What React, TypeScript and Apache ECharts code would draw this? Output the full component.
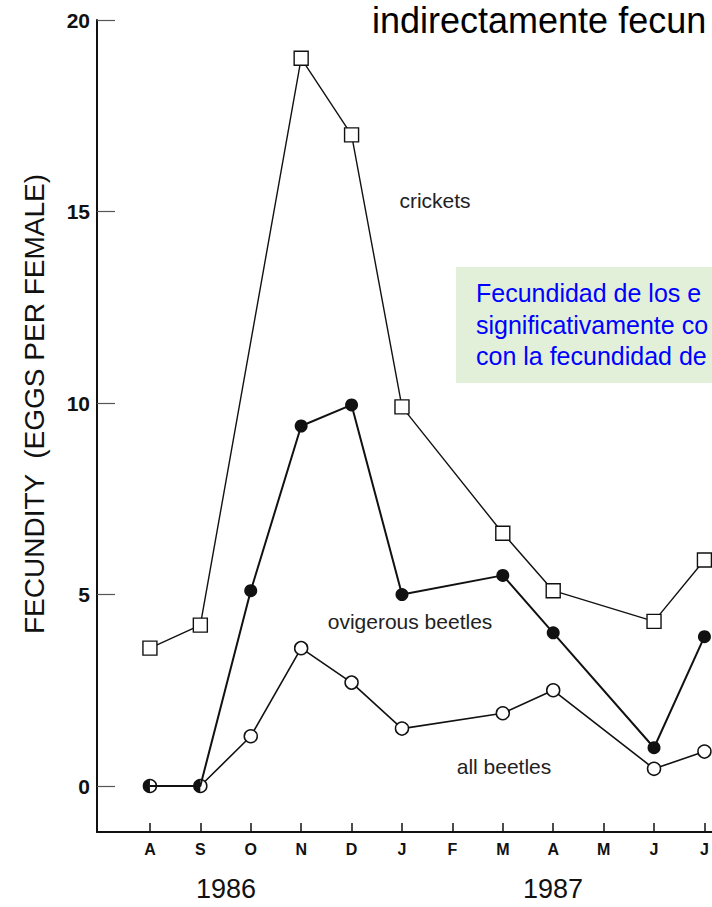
import React, { useEffect, useRef } from "react";
import * as echarts from "echarts";

const months = ["A", "S", "O", "N", "D", "J", "F", "M", "A", "M", "J", "J"];
const crickets: (number | null)[] = [3.6, 4.2, null, 19.0, 17.0, 9.9, null, 6.6, 5.1, null, 4.3, 5.9];
const ovigerous: (number | null)[] = [0, 0, 5.1, 9.4, 9.95, 5.0, null, 5.5, 4.0, null, 1.0, 3.9];
const allBeetles: (number | null)[] = [0, 0, 1.3, 3.6, 2.7, 1.5, null, 1.9, 2.5, null, 0.45, 0.9];
const yTicks = [0, 5, 10, 15, 20];
const years = ["1986", "1987"];
const seriesNames = ["crickets", "ovigerous beetles", "all beetles"];
const yAxisName = "FECUNDITY  (EGGS PER FEMALE)";
const titleText = "indirectamente fecun";
const noteLines = ["Fecundidad de los e", "significativamente co", "con la fecundidad de"];

const FONT = "'Liberation Sans', Arial, Helvetica, sans-serif";
const HALF = "path://M10,0 A10,10 0 0,0 10,20 Z";

function pts(arr: (number | null)[]) {
  const out: any[] = [];
  arr.forEach((v, i) => {
    if (v !== null) out.push([i, v]);
  });
  return out;
}

export default function App() {
  const ref = useRef<HTMLDivElement>(null);
  useEffect(() => {
    if (!ref.current) return;
    const chart = echarts.init(ref.current, null, { renderer: "svg" });
    const ovData = pts(ovigerous).map((p) =>
      p[1] === 0
        ? { value: p, symbol: HALF, symbolSize: [6.5, 13], symbolOffset: [-3.25, 0] }
        : { value: p }
    );
    const textStyle = { fill: "#222", fontFamily: FONT, fontSize: 21 };
    chart.setOption({
      animation: false,
      backgroundColor: "#ffffff",
      grid: { left: 97, right: 0, top: 20, bottom: 75, containLabel: false },
      xAxis: {
        type: "value",
        min: -1.05,
        max: 11.15,
        splitLine: { show: false },
        axisLine: { show: true, onZero: false, lineStyle: { color: "#111", width: 2 } },
        axisTick: {
          show: true,
          inside: true,
          length: 9,
          customValues: months.map((_, i) => i),
          lineStyle: { color: "#111", width: 1.5 },
        },
        axisLabel: {
          customValues: months.map((_, i) => i),
          formatter: (v: number) => months[Math.round(v)] ?? "",
          color: "#111",
          fontFamily: FONT,
          fontWeight: "bold",
          fontSize: 16,
          margin: 9,
        },
      },
      yAxis: {
        type: "value",
        min: -1.2,
        max: 20,
        splitLine: { show: false },
        axisLine: { show: true, onZero: false, lineStyle: { color: "#111", width: 2 } },
        axisTick: {
          show: true,
          inside: true,
          length: 18,
          customValues: yTicks,
          lineStyle: { color: "#555", width: 1.2 },
        },
        axisLabel: {
          customValues: yTicks,
          color: "#111",
          fontFamily: FONT,
          fontWeight: "bold",
          fontSize: 21,
          margin: 7,
        },
      },
      series: [
        {
          name: seriesNames[0],
          type: "line",
          data: pts(crickets),
          symbol: "rect",
          symbolSize: 14,
          lineStyle: { color: "#111", width: 1.4 },
          itemStyle: { color: "#fff", borderColor: "#111", borderWidth: 1.4 },
          z: 2,
        },
        {
          name: seriesNames[2],
          type: "line",
          data: pts(allBeetles),
          symbol: "circle",
          symbolSize: 13,
          lineStyle: { color: "#111", width: 1.6 },
          itemStyle: { color: "#fff", borderColor: "#111", borderWidth: 1.5 },
          z: 3,
        },
        {
          name: seriesNames[1],
          type: "line",
          data: ovData,
          symbol: "circle",
          symbolSize: 13,
          lineStyle: { color: "#111", width: 2 },
          itemStyle: { color: "#111", borderColor: "#111", borderWidth: 0 },
          z: 4,
        },
      ],
      graphic: [
        {
          type: "text",
          left: 372,
          top: 2,
          style: { text: titleText, fill: "#000", fontFamily: FONT, fontSize: 36 },
        },
        {
          type: "text",
          x: 34,
          y: 404,
          rotation: Math.PI / 2,
          style: {
            text: yAxisName,
            fill: "#111",
            fontFamily: FONT,
            fontSize: 28,
            align: "center",
            verticalAlign: "middle",
          },
        },
        {
          type: "rect",
          shape: { x: 456, y: 267, width: 260, height: 116 },
          style: { fill: "#E2F0D9" },
          z: 0,
        },
        ...noteLines.map((t, i) => ({
          type: "text",
          x: 476,
          y: 293 + i * 31.5,
          style: {
            text: t,
            fill: "#0000FF",
            fontFamily: FONT,
            fontSize: 25,
            verticalAlign: "middle",
          },
          z: 1,
        })),
        {
          type: "text",
          x: 435,
          y: 200,
          style: { ...textStyle, text: seriesNames[0], align: "center", verticalAlign: "middle" },
        },
        {
          type: "text",
          x: 410,
          y: 621,
          style: { ...textStyle, text: seriesNames[1], align: "center", verticalAlign: "middle" },
        },
        {
          type: "text",
          x: 504,
          y: 766,
          style: { ...textStyle, text: seriesNames[2], align: "center", verticalAlign: "middle" },
        },
        {
          type: "text",
          x: 226,
          y: 889,
          style: { text: years[0], fill: "#111", fontFamily: FONT, fontSize: 27, align: "center", verticalAlign: "middle" },
        },
        {
          type: "text",
          x: 553,
          y: 889,
          style: { text: years[1], fill: "#111", fontFamily: FONT, fontSize: 27, align: "center", verticalAlign: "middle" },
        },
      ],
    });
    return () => chart.dispose();
  }, []);
  return (
    <div
      ref={ref}
      style={{ position: "fixed", left: 0, top: 0, width: 712, height: 907, background: "#fff" }}
    />
  );
}
